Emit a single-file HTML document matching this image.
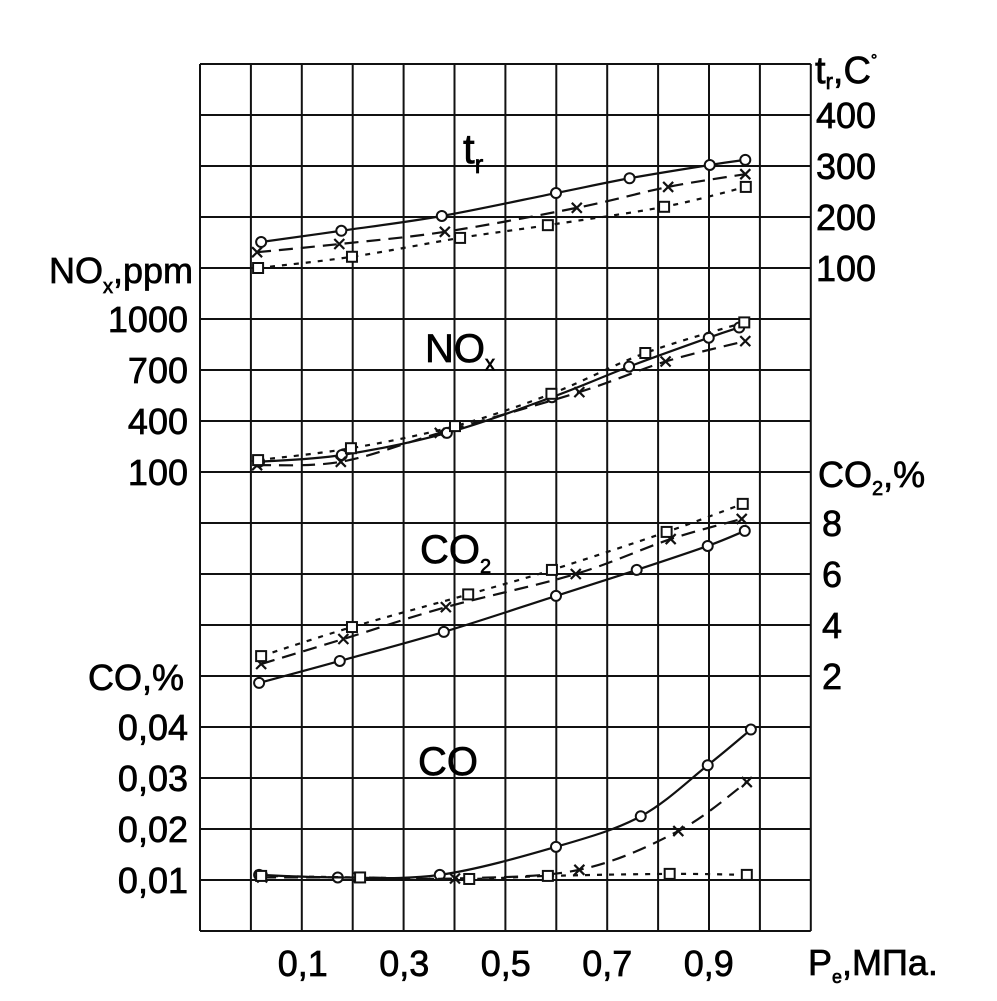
<!DOCTYPE html>
<html><head><meta charset="utf-8"><style>
html,body{margin:0;padding:0;background:#fff;}
svg{display:block;font-family:"Liberation Sans",sans-serif;}
text{stroke:#000;stroke-width:0.7;fill:#000;}
</style></head><body>
<svg id="chart" width="997" height="1001" viewBox="0 0 997 1001">
<g id="grid"></g>
<g id="labels">
  <text x="815" y="83" font-size="38">t<tspan font-size="22" dy="6">r</tspan><tspan dy="-6">,C</tspan><tspan font-size="16" dy="-18">°</tspan></text>
  <text x="193" y="283" font-size="36" text-anchor="end">NO<tspan font-size="20" dy="10">x</tspan><tspan dy="-10">,ppm</tspan></text>
  <text x="818" y="487" font-size="36">CO<tspan font-size="20" dy="8">2</tspan><tspan dy="-8">,%</tspan></text>
  <text x="184" y="690" font-size="36" text-anchor="end">CO,%</text>
  <text x="808" y="975" font-size="36">P<tspan font-size="18" dy="8">e</tspan><tspan dy="-8">,МПа.</tspan></text>
  <text x="463" y="163" font-size="42">t<tspan font-size="26" dy="10">r</tspan></text>
  <text x="425" y="362" font-size="40">NO<tspan font-size="20" dy="8">x</tspan></text>
  <text x="420" y="563" font-size="40">CO<tspan font-size="20" dy="10">2</tspan></text>
  <text x="418" y="775" font-size="40">CO</text>
</g>
<g id="ticks"></g>
<g id="series"></g>
</svg>
<script>
const xTicks=[0.1,0.3,0.5,0.7,0.9];
const xTickLabels=["0,1","0,3","0,5","0,7","0,9"];
const tTicks=[100,200,300,400];
const noxTicks=[100,400,700,1000];
const co2Ticks=[2,4,6,8];
const coTicks=[0.01,0.02,0.03,0.04];
const coTickLabels=["0,01","0,02","0,03","0,04"];

const trCircleX=[0.018,0.176,0.374,0.599,0.744,0.902,0.972];
const trCircleY=[151,173,202,247,276,302,312];
const trCrossX=[0.01,0.172,0.38,0.64,0.82,0.972];
const trCrossY=[131,147,171,218,259,284];
const trSquareX=[0.012,0.197,0.41,0.583,0.812,0.973];
const trSquareY=[100,122,159,184,220,259];

const noxCircleX=[0.014,0.177,0.384,0.591,0.743,0.9,0.96];
const noxCircleY=[160,200,330,540,720,890,950];
const noxCrossX=[0.01,0.175,0.37,0.645,0.815,0.972];
const noxCrossY=[140,160,330,570,750,870];
const noxSquareX=[0.012,0.195,0.4,0.59,0.775,0.97];
const noxSquareY=[170,240,370,560,800,980];

const co2CircleX=[0.014,0.173,0.378,0.599,0.758,0.898,0.971];
const co2CircleY=[1.73,2.59,3.73,5.14,6.16,7.1,7.69];
const co2CrossX=[0.018,0.18,0.382,0.638,0.825,0.965];
const co2CrossY=[2.47,3.45,4.7,6.0,7.37,8.16];
const co2SquareX=[0.018,0.197,0.426,0.591,0.817,0.967];
const co2SquareY=[2.78,3.92,5.2,6.16,7.65,8.75];

const coCircleX=[0.014,0.169,0.37,0.599,0.766,0.898,0.983];
const coCircleY=[0.011,0.0105,0.011,0.0165,0.0225,0.0325,0.0395];
const coCrossX=[0.02,0.21,0.4,0.645,0.84,0.975];
const coCrossY=[0.0105,0.0105,0.0103,0.012,0.0196,0.0292];
const coSquareX=[0.018,0.213,0.428,0.583,0.823,0.975];
const coSquareY=[0.0108,0.0105,0.0102,0.0108,0.0112,0.011];

const NS="http://www.w3.org/2000/svg";
const GX0=200,GY0=64,CELL=50.9,ROWCELL=51,COLS=12,ROWS=17;
const xs=v=>252+507.5*v;
const yT=t=>GY0+4*ROWCELL-(t-100)/100*ROWCELL;
const yNox=n=>GY0+8*ROWCELL-(n-100)/300*ROWCELL;
const yCo2=c=>GY0+12*ROWCELL-(c-2)/2*ROWCELL;
const yCo=c=>GY0+16*ROWCELL-(c-0.01)/0.01*ROWCELL;

function mk(tag,attrs,parent){const e=document.createElementNS(NS,tag);for(const k in attrs)e.setAttribute(k,attrs[k]);parent.appendChild(e);return e;}

const grid=document.getElementById('grid');
for(let i=0;i<=COLS;i++){
  const l=mk('line',{x1:GX0+i*CELL,x2:GX0+i*CELL,y1:GY0,y2:GY0+ROWS*ROWCELL,stroke:'#111','stroke-width':2},grid);
  
  
}
for(let j=0;j<=ROWS;j++){
  const l=mk('line',{x1:GX0,x2:GX0+COLS*CELL,y1:GY0+j*ROWCELL,y2:GY0+j*ROWCELL,stroke:'#111','stroke-width':2},grid);
  
  
}

const ticks=document.getElementById('ticks');
function tick(x,y,txt,anchor,name){
  const t=mk('text',{x:x,y:y+13,'font-size':36,'text-anchor':anchor},ticks);
  t.textContent=txt;
  
  
}
xTicks.forEach((v,i)=>tick(xs(v),963,xTickLabels[i],'middle','x-tick-label'));
tTicks.forEach(v=>tick(816,yT(v),String(v),'start','temperature-tick-label'));
noxTicks.forEach(v=>tick(188,yNox(v),String(v),'end','nox-tick-label'));
co2Ticks.forEach(v=>tick(822,yCo2(v),String(v),'start','co2-tick-label'));
coTicks.forEach((v,i)=>tick(188,yCo(v),coTickLabels[i],'end','co-tick-label'));

function smoothPath(pts){
  let d='M'+pts[0][0]+','+pts[0][1];
  for(let i=0;i<pts.length-1;i++){
    const p0=pts[i-1]||pts[i],p1=pts[i],p2=pts[i+1],p3=pts[i+2]||p2;
    const c1=[p1[0]+(p2[0]-p0[0])/6,p1[1]+(p2[1]-p0[1])/6];
    const c2=[p2[0]-(p3[0]-p1[0])/6,p2[1]-(p3[1]-p1[1])/6];
    d+=' C'+c1[0]+','+c1[1]+' '+c2[0]+','+c2[1]+' '+p2[0]+','+p2[1];
  }
  return d;
}
const seriesG=document.getElementById('series');
const styles={circle:'none',cross:'14 8',square:'5 7'};
function drawSeries(X,Y,yf,type,name){
  const g=mk('g',{},seriesG);
  
  
  const pts=X.map((v,i)=>[xs(v),yf(Y[i])]);
  const p=mk('path',{d:smoothPath(pts),fill:'none',stroke:'#111','stroke-width':2.2},g);
  if(styles[type]!=='none')p.setAttribute('stroke-dasharray',styles[type]);
  
  
  pts.forEach(([x,y])=>{
    let m;
    if(type==='circle')m=mk('circle',{cx:x,cy:y,r:5,fill:'#fff',stroke:'#111','stroke-width':2},g);
    else if(type==='square')m=mk('rect',{x:x-5,y:y-5,width:10,height:10,fill:'#fff',stroke:'#111','stroke-width':2},g);
    else m=mk('path',{d:`M${x-5},${y-5}L${x+5},${y+5}M${x-5},${y+5}L${x+5},${y-5}`,stroke:'#111','stroke-width':2.2},g);
    
    
  });
}
drawSeries(trCircleX,trCircleY,yT,'circle','tr-circle-series');
drawSeries(trCrossX,trCrossY,yT,'cross','tr-cross-series');
drawSeries(trSquareX,trSquareY,yT,'square','tr-square-series');
drawSeries(noxCircleX,noxCircleY,yNox,'circle','nox-circle-series');
drawSeries(noxCrossX,noxCrossY,yNox,'cross','nox-cross-series');
drawSeries(noxSquareX,noxSquareY,yNox,'square','nox-square-series');
drawSeries(co2CircleX,co2CircleY,yCo2,'circle','co2-circle-series');
drawSeries(co2CrossX,co2CrossY,yCo2,'cross','co2-cross-series');
drawSeries(co2SquareX,co2SquareY,yCo2,'square','co2-square-series');
drawSeries(coCircleX,coCircleY,yCo,'circle','co-circle-series');
drawSeries(coCrossX,coCrossY,yCo,'cross','co-cross-series');
drawSeries(coSquareX,coSquareY,yCo,'square','co-square-series');
</script>
</body></html>
